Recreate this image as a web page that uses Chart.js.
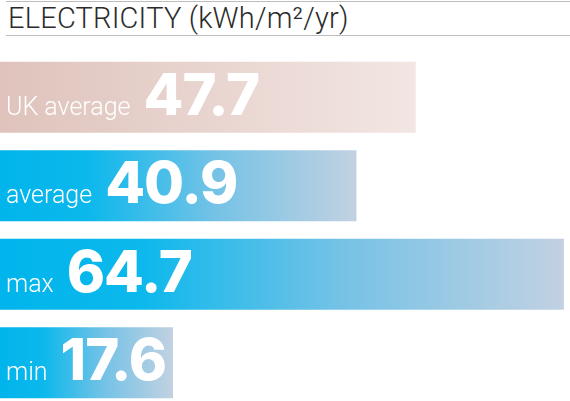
<!DOCTYPE html>
<html>
<head>
<meta charset="utf-8">
<script src="https://cdn.jsdelivr.net/npm/chart.js@4"></script>
<style>
  html, body { margin: 0; padding: 0; background: #fff; overflow: hidden; }
  body { width: 570px; height: 401px; position: relative; }
  .title {
    position: absolute; left: 6px; top: 1px; width: 562px; height: 33px;
    border-top: 1px solid #bdbdbd; border-bottom: 1px solid #bdbdbd;
    font-family: Roboto, "Liberation Sans", sans-serif; font-weight: 300;
    font-size: 29px; letter-spacing: 0.2px; line-height: 33px; color: #2b2b2b;
    padding-left: 2px; box-sizing: content-box; white-space: nowrap;
  }
  .wrap { position: absolute; left: 0; top: 53px; width: 570px; height: 354px; }
</style>
</head>
<body>
<div class="title">ELECTRICITY (kWh/m²/yr)</div>
<div class="wrap"><canvas id="bars"></canvas></div>
<script>
const categories = ['UK average', 'average', 'max', 'min'];
const values = [47.7, 40.9, 64.7, 17.6];
const axisMax = 65.4;
const minLen = 173;

const ukStops = ['#dfc3bc', '#f2e6e3'];
const blueStops = ['#00b5ec', '#0cb8ec', '#74c2e6', '#c2d1e2'];

function barFill(c) {
  const chart = c.chart;
  if (!chart.chartArea || c.type !== 'data') return ukStops[0];
  const x = chart.scales.x;
  const start = x.getPixelForValue(0);
  const end = Math.max(x.getPixelForValue(c.raw), start + minLen);
  const g = chart.ctx.createLinearGradient(start, 0, end, 0);
  if (c.dataIndex === 0) {
    g.addColorStop(0, ukStops[0]);
    g.addColorStop(1, ukStops[1]);
  } else {
    g.addColorStop(0, blueStops[0]);
    g.addColorStop(0.25, blueStops[1]);
    g.addColorStop(0.6, blueStops[2]);
    g.addColorStop(1, blueStops[3]);
  }
  return g;
}

// label + big value written inside each bar
const barText = {
  id: 'barText',
  afterDatasetsDraw(chart) {
    const ctx = chart.ctx;
    const meta = chart.getDatasetMeta(0);
    ctx.save();
    ctx.fillStyle = '#ffffff';
    ctx.textBaseline = 'alphabetic';
    meta.data.forEach((bar, i) => {
      const baseline = bar.y + bar.height / 2 - 18;
      ctx.font = '300 25px Roboto, "Liberation Sans", sans-serif';
      ctx.fillText(categories[i], 6, baseline);
      const w = ctx.measureText(categories[i]).width;
      ctx.font = '800 58px Inter, "Liberation Sans", sans-serif';
      ctx.letterSpacing = '-1px';
      ctx.fillText(values[i].toFixed(1), 6 + w + 13, baseline);
      ctx.letterSpacing = '0px';
    });
    ctx.restore();
  }
};

new Chart(document.getElementById('bars'), {
  type: 'bar',
  data: {
    labels: categories,
    datasets: [{
      data: values,
      backgroundColor: barFill,
      borderWidth: 0,
      barPercentage: 0.8,
      categoryPercentage: 1,
      minBarLength: minLen
    }]
  },
  options: {
    indexAxis: 'y',
    responsive: true,
    maintainAspectRatio: false,
    animation: false,
    layout: { padding: 0 },
    scales: {
      x: { display: false, min: 0, max: axisMax },
      y: { display: false }
    },
    plugins: {
      legend: { display: false },
      tooltip: { enabled: false }
    }
  },
  plugins: [barText]
});
</script>
</body>
</html>
